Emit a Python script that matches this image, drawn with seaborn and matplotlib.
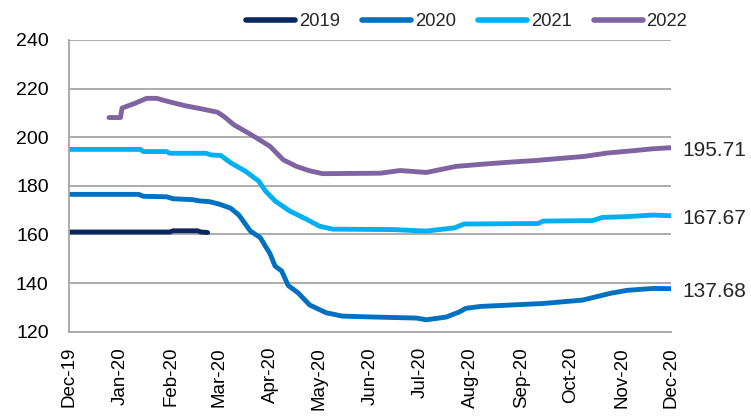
import pandas as pd
import numpy as np
import seaborn as sns
import matplotlib.pyplot as plt
import matplotlib.dates as mdates

# values, keyed by date on the 2020 axis
dates_2019 = ['2019-12-01', '2020-01-31', '2020-02-02', '2020-02-17', '2020-02-19', '2020-02-23']
vals_2019 = [161.0, 161.0, 161.5, 161.5, 161.0, 160.8]

dates_2020 = ['2019-12-01', '2020-01-12', '2020-01-15', '2020-01-29', '2020-02-02', '2020-02-14',
              '2020-02-18', '2020-02-24', '2020-03-01', '2020-03-08', '2020-03-13', '2020-03-20',
              '2020-03-26', '2020-04-01', '2020-04-04', '2020-04-08', '2020-04-12', '2020-04-18',
              '2020-04-25', '2020-05-05', '2020-05-15', '2020-05-30', '2020-06-29', '2020-07-05',
              '2020-07-17', '2020-07-25', '2020-07-29', '2020-08-07', '2020-08-20', '2020-09-14',
              '2020-10-08', '2020-10-25', '2020-11-04', '2020-11-20', '2020-12-01']
vals_2020 = [176.5, 176.5, 175.7, 175.5, 174.7, 174.3,
             173.8, 173.5, 172.5, 170.8, 168.0, 161.4,
             158.7, 152.0, 147.0, 145.0, 139.0, 136.0,
             131.0, 127.8, 126.4, 126.1, 125.6, 124.9,
             126.0, 128.1, 129.6, 130.4, 130.8, 131.6,
             133.0, 135.8, 137.0, 137.8, 137.68]

dates_2021 = ['2019-12-01', '2020-01-13', '2020-01-15', '2020-01-29', '2020-01-31', '2020-02-22',
              '2020-02-25', '2020-03-02', '2020-03-08', '2020-03-17', '2020-03-25', '2020-03-29',
              '2020-04-04', '2020-04-13', '2020-04-23', '2020-05-01', '2020-05-09', '2020-06-15',
              '2020-07-01', '2020-07-05', '2020-07-22', '2020-07-28', '2020-09-11', '2020-09-14',
              '2020-10-14', '2020-10-20', '2020-11-03', '2020-11-20', '2020-12-01']
vals_2021 = [195.0, 195.0, 194.1, 194.1, 193.4, 193.4,
             192.7, 192.5, 189.5, 186.0, 182.0, 178.0,
             173.8, 169.6, 166.3, 163.4, 162.2, 162.0,
             161.5, 161.4, 162.7, 164.3, 164.5, 165.5,
             165.7, 167.0, 167.3, 168.0, 167.67]

dates_2022 = ['2019-12-25', '2020-01-01', '2020-01-02', '2020-01-10', '2020-01-17', '2020-01-23',
              '2020-01-30', '2020-02-09', '2020-02-19', '2020-02-29', '2020-03-04', '2020-03-10',
              '2020-03-18', '2020-03-24', '2020-04-01', '2020-04-09', '2020-04-17', '2020-04-25',
              '2020-05-03', '2020-06-07', '2020-06-19', '2020-07-05', '2020-07-23', '2020-08-10',
              '2020-08-26', '2020-09-09', '2020-09-23', '2020-10-09', '2020-10-23', '2020-11-07',
              '2020-11-19', '2020-12-01']
vals_2022 = [208.1, 208.1, 212.0, 214.0, 216.0, 216.0,
             214.7, 213.0, 211.7, 210.3, 208.5, 205.1,
             202.0, 199.6, 196.2, 190.7, 188.0, 186.2,
             185.0, 185.2, 186.3, 185.5, 188.0, 189.0,
             189.8, 190.4, 191.2, 192.1, 193.5, 194.4,
             195.2, 195.71]

series = ['2019', '2020', '2021', '2022']
colors = ['#0c2660', '#0070c0', '#00b0f0', '#8064a2']
end_labels = ['195.71', '167.67', '137.68']

frames = []
for name, d, v in zip(series, [dates_2019, dates_2020, dates_2021, dates_2022],
                      [vals_2019, vals_2020, vals_2021, vals_2022]):
    frames.append(pd.DataFrame({'date': pd.to_datetime(d), 'value': v, 'year': name}))
df = pd.concat(frames, ignore_index=True)

sns.set_style('white')
plt.rcParams['font.family'] = ['Liberation Sans', 'DejaVu Sans']

fig = plt.figure(figsize=(7.51, 4.17), dpi=100)
ax = fig.add_axes([0.0925, 0.2046, 0.8015, 0.6995])

sns.lineplot(data=df, x='date', y='value', hue='year', palette=colors,
             linewidth=3.5, sort=False, ax=ax, estimator=None)

ax.set_xlim(pd.Timestamp('2019-12-01'), pd.Timestamp('2020-12-01'))
ax.set_ylim(120, 240)
ax.set_yticks(np.arange(120, 241, 20))
ax.xaxis.set_major_locator(mdates.MonthLocator())
ax.xaxis.set_major_formatter(mdates.DateFormatter('%b-%y'))
ax.set_xlabel('')
ax.set_ylabel('')

ax.grid(axis='y', color='#a6a6a6', linewidth=1.3)
ax.set_axisbelow(True)
for s in ['top', 'right']:
    ax.spines[s].set_visible(False)
for s in ['left', 'bottom']:
    ax.spines[s].set_color('#a6a6a6')
    ax.spines[s].set_linewidth(1.3)
ax.tick_params(axis='y', direction='out', length=6, width=1.3, pad=9,
               color='#a6a6a6', labelsize=14, labelcolor='black')
ax.tick_params(axis='x', direction='out', length=4, width=1.3, pad=7,
               color='#a6a6a6', labelsize=13.5, labelcolor='black', labelrotation=90)

# end-of-line value labels
for name, lab in zip(['2022', '2021', '2020'], end_labels):
    sub = df[df['year'] == name]
    ax.annotate(lab, xy=(sub['date'].iloc[-1], sub['value'].iloc[-1]),
                xytext=(8, -2), textcoords='offset points', va='center', ha='left',
                fontsize=15, annotation_clip=False)

handles, labels = ax.get_legend_handles_labels()
for h in handles:
    h.set_linewidth(4)
ax.legend(handles, labels, ncol=4, frameon=False, loc='center',
          bbox_to_anchor=(0.66, 1.062), fontsize=13.3, handlelength=2.65,
          handletextpad=0.2, columnspacing=1.2, borderaxespad=0)

fig.savefig('out.png', dpi=100)
